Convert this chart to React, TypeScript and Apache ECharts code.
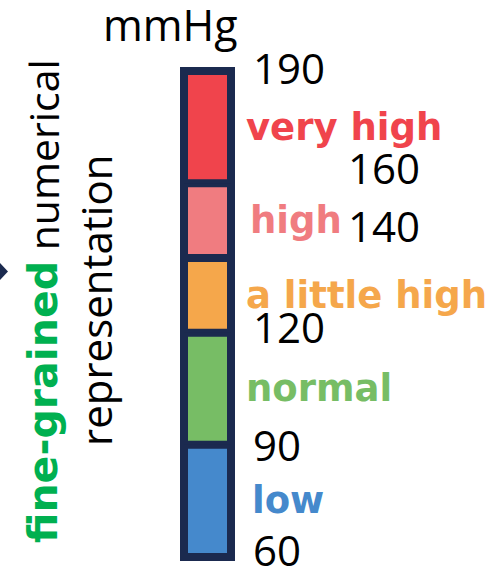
import React, { useEffect, useRef } from "react";
import * as echarts from "echarts";

const thresholds = [60, 90, 120, 140, 160, 190];
const levelNames = ["low", "normal", "a little high", "high", "very high"];
const levelColors = ["#4589CC", "#77BD65", "#F5A74B", "#F07C80", "#F0444C"];
const unitLabel = "mmHg";
const titleBold = "fine-grained";
const titleRest = "numerical";
const titleLine2 = "representation";

const NAVY = "#1B2A4F";

export default function App() {
  const ref = useRef<HTMLDivElement>(null);
  useEffect(() => {
    if (!ref.current) return;
    const chart = echarts.init(ref.current, null, { renderer: "svg" });
    const segs = levelNames.map((n, i) => thresholds[i + 1] - thresholds[i]);
    const series: any[] = [
      {
        type: "bar",
        name: "base",
        stack: "bp",
        data: [thresholds[0]],
        barWidth: "100%",
        itemStyle: { color: "transparent" },
        silent: true,
      },
      ...levelNames.map((n, i) => ({
        type: "bar",
        name: n,
        stack: "bp",
        data: [segs[i]],
        barWidth: "100%",
        clip: false,
        itemStyle: { color: levelColors[i], borderColor: NAVY, borderWidth: 4 },
        label: {
          show: true,
          position: "right",
          distance: n === "high" ? 19 : n === "low" ? 21 : 15,
          formatter: n,
          color: levelColors[i],
          fontSize: 37,
          fontWeight: "bold",
          fontFamily: "DejaVu Sans",
        },
      })),
    ];
    const lift: Record<number, number> = { 190: 4, 160: 16, 140: 32, 120: 6, 90: 0, 60: 8 };
    const shiftRight: Record<number, number> = { 160: 95, 140: 95 };
    const rich: Record<string, any> = {};
    thresholds.forEach((v) => {
      rich["t" + v] = {
        fontSize: 42,
        fontFamily: "Open Sans",
        color: "#000",
        padding: [0, 0, 2 * lift[v], shiftRight[v] || 0],
      };
    });
    chart.setOption({
      animation: false,
      grid: {
        left: 184,
        width: 47,
        top: 71,
        bottom: 11,
        show: true,
        backgroundColor: NAVY,
        borderColor: NAVY,
        borderWidth: 8,
      },
      xAxis: {
        type: "category",
        data: [""],
        show: false,
      },
      yAxis: {
        type: "value",
        position: "right",
        min: thresholds[0],
        max: thresholds[thresholds.length - 1],
        splitLine: { show: false },
        axisLine: { show: false },
        axisTick: { show: false },
        axisLabel: {
          customValues: thresholds,
          margin: 22,
          fontSize: 42,
          fontFamily: "Open Sans",
          color: "#000",
          formatter: (v: number) => `{t${v}|${v}}`,
          rich,
        },
      },
      series,
      graphic: [
        {
          type: "text",
          left: 103,
          top: 3,
          style: { text: unitLabel, fontSize: 43, fontFamily: "Open Sans", fill: "#000" },
        },
        {
          type: "text",
          x: 43,
          y: 543,
          rotation: Math.PI / 2,
          style: {
            text: `{g|${titleBold}}{b| ${titleRest}}`,
            align: "left",
            verticalAlign: "middle",
            rich: {
              g: { fontSize: 41, fontWeight: "bold", fontFamily: "DejaVu Sans", fill: "#00B050" },
              b: { fontSize: 41, fontFamily: "Open Sans", fill: "#000" },
            },
          },
        },
        {
          type: "text",
          x: 95,
          y: 446,
          rotation: Math.PI / 2,
          style: {
            text: titleLine2,
            align: "left",
            verticalAlign: "middle",
            fontSize: 42,
            fontFamily: "Open Sans",
            fill: "#000",
          },
        },
        {
          type: "polygon",
          shape: { points: [[0, 263], [8, 271.5], [0, 280]] },
          style: { fill: NAVY },
        },
      ],
    });
    return () => chart.dispose();
  }, []);
  return (
    <div
      ref={ref}
      style={{ position: "absolute", left: 0, top: 0, width: 495, height: 570 }}
    />
  );
}
